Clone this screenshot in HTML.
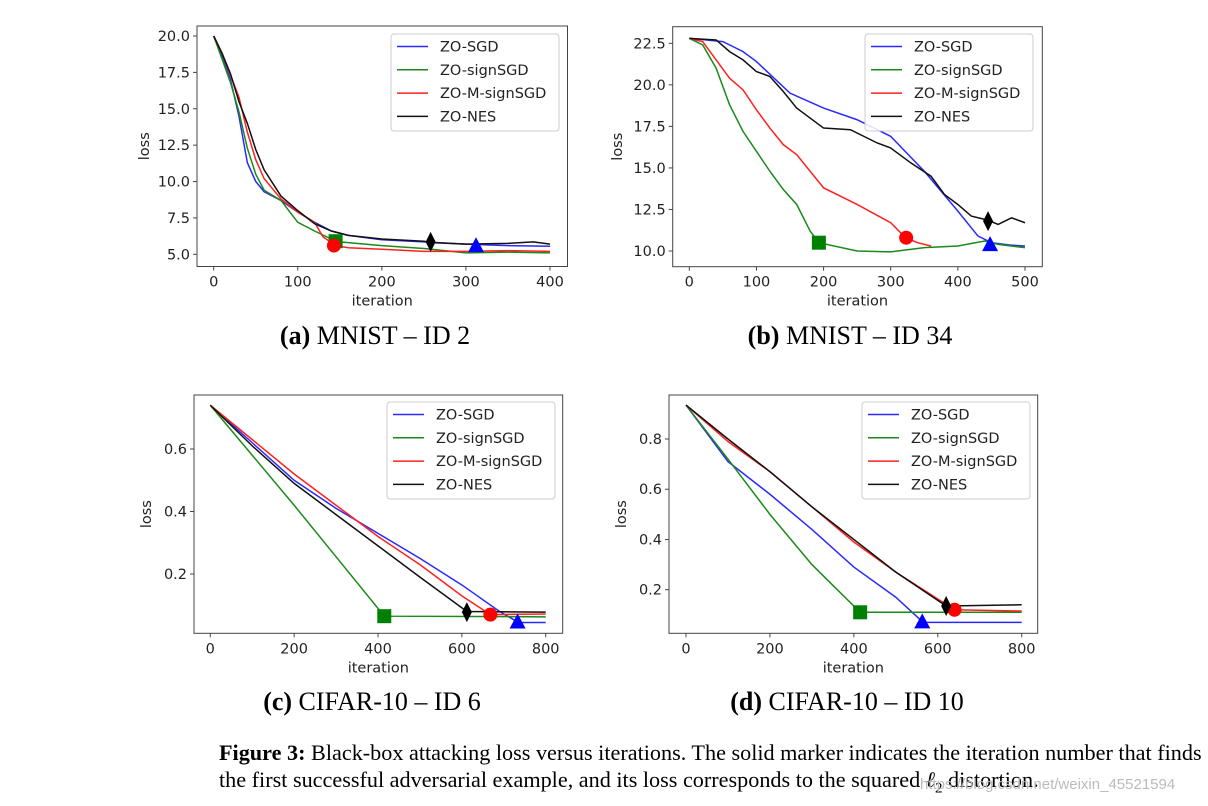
<!DOCTYPE html>
<html><head><meta charset="utf-8"><style>
html,body{margin:0;padding:0;background:#fff;}
body{width:1208px;height:806px;position:relative;overflow:hidden;font-family:"Liberation Serif",serif;}
.cap{position:absolute;font-size:26px;color:#000;text-align:center;width:400px;line-height:30px;}
.fig{position:absolute;left:219px;font-size:22.2px;color:#000;white-space:nowrap;line-height:27px;}
</style></head><body>
<svg id="svg" width="1208" height="806" style="position:absolute;left:0;top:0"></svg>
<div class="cap" style="left:175px;top:321px"><b>(a)</b> MNIST – ID 2</div>
<div class="cap" style="left:650px;top:321px"><b>(b)</b> MNIST – ID 34</div>
<div class="cap" style="left:172px;top:687px"><b>(c)</b> CIFAR-10 – ID 6</div>
<div class="cap" style="left:647px;top:687px"><b>(d)</b> CIFAR-10 – ID 10</div>
<div class="fig" style="top:739px"><b>Figure 3:</b> Black-box attacking loss versus iterations. The solid marker indicates the iteration number that finds</div>
<div class="fig" style="top:766px">the first successful adversarial example, and its loss corresponds to the squared <i>ℓ</i><sub style="font-size:15px">2</sub> distortion.</div>
<div style="position:absolute;left:920px;top:776px;font-family:'Liberation Sans',sans-serif;font-size:15px;color:#bbb">https://blog.csdn.net/weixin_45521594</div>
<script>
const seriesNames=["ZO-SGD","ZO-signSGD","ZO-M-signSGD","ZO-NES"];
const colors=["#2a2aff","#1a8a1a","#ff2020","#111"];
const markColors=["#0000ff","#008000","#ff0000","#000"];
// panel a
const aX=[[0,10,20,30,40,50,60,80,100,120,140,160,200,250,300,350,400],[0,10,20,30,40,50,60,80,100,120,145,150,200,250,300,350,400],[0,10,20,30,40,50,60,80,100,120,130,145,160,200,250,300,350,400],[0,10,20,30,40,50,60,80,100,120,140,160,200,250,260,300,350,380,400]];
const aY=[[20,18.6,17,14.5,11.3,10.0,9.3,8.7,7.9,7.2,6.6,6.3,6.0,5.85,5.7,5.6,5.55],[20,18.4,16.8,14.8,12.3,10.5,9.4,8.7,7.2,6.6,5.9,5.85,5.6,5.4,5.1,5.15,5.1],[20,18.8,17.3,15.8,13.4,11.5,10.2,8.8,7.9,7.2,6.2,5.6,5.45,5.35,5.2,5.2,5.25,5.2],[20,18.8,17.4,15.5,14.0,12.2,10.8,9.0,8.0,7.1,6.6,6.3,6.05,5.9,5.8,5.7,5.75,5.85,5.7]];
const aMark=[[312,5.55],[145,5.9],[143,5.6],[258,5.85]];
const aXT=[0,100,200,300,400], aYT=[5,7.5,10,12.5,15,17.5,20];
// panel b
const bX=[[0,50,80,100,150,200,250,300,350,400,430,450,480,500],[0,20,40,60,80,100,120,140,160,180,193,250,300,350,400,440,460,500],[0,20,40,60,80,100,120,140,160,200,250,300,322,340,360],[0,40,60,80,100,120,140,160,200,240,280,300,330,360,380,400,420,445,460,480,500]];
const bY=[[22.8,22.6,22.0,21.4,19.5,18.6,17.9,16.9,14.8,12.4,10.9,10.5,10.35,10.3],[22.8,22.4,21.0,18.8,17.2,16.0,14.8,13.7,12.8,11.2,10.5,10.0,9.95,10.2,10.3,10.6,10.4,10.2],[22.8,22.6,21.5,20.4,19.7,18.5,17.4,16.4,15.8,13.8,12.8,11.7,10.8,10.5,10.3],[22.8,22.7,22.0,21.5,20.8,20.5,19.6,18.6,17.4,17.3,16.5,16.2,15.3,14.5,13.4,12.8,12.1,11.85,11.6,12.0,11.7]];
const bMark=[[448,10.35],[193,10.5],[323,10.8],[445,11.8]];
const bXT=[0,100,200,300,400,500], bYT=[10,12.5,15,17.5,20,22.5];
// panel c
const cX=[[0,100,200,300,400,500,600,690,735,800],[0,100,200,300,415,800],[0,100,200,300,400,500,600,668,800],[0,100,200,300,400,500,612,800]];
const cY=[[0.74,0.62,0.5,0.41,0.33,0.25,0.165,0.08,0.045,0.045],[0.74,0.58,0.42,0.255,0.065,0.063],[0.74,0.63,0.52,0.42,0.32,0.23,0.13,0.07,0.072],[0.74,0.61,0.49,0.39,0.29,0.19,0.08,0.078]];
const cMark=[[733,0.045],[415,0.065],[668,0.07],[612,0.078]];
const cXT=[0,200,400,600,800], cYT=[0.2,0.4,0.6];
// panel d
const dX=[[0,100,200,300,400,500,565,800],[0,100,200,300,415,800],[0,100,200,300,400,500,640,800],[0,100,200,300,400,500,620,800]];
const dY=[[0.935,0.71,0.58,0.44,0.29,0.17,0.07,0.07],[0.935,0.72,0.5,0.3,0.11,0.11],[0.935,0.79,0.67,0.53,0.39,0.27,0.12,0.115],[0.935,0.8,0.67,0.53,0.4,0.27,0.135,0.14]];
const dMark=[[563,0.07],[415,0.11],[640,0.12],[620,0.135]];
const dXT=[0,200,400,600,800], dYT=[0.2,0.4,0.6,0.8];

const NS="http://www.w3.org/2000/svg";
const svg=document.getElementById('svg');
function mk(t,a,p){const e=document.createElementNS(NS,t);for(const k in a)e.setAttribute(k,a[k]);(p||svg).appendChild(e);return e;}
function panel(id,fr,xm,ym,X,Y,M,XT,YT,dec,leg,ylx){
  const g=mk('g',{});
  
  
  const sx=v=>xm[0]+(v-xm[1])*(xm[2]-xm[0])/(xm[3]-xm[1]);
  const sy=v=>ym[0]+(v-ym[1])*(ym[2]-ym[0])/(ym[3]-ym[1]);
  const clip=mk('clipPath',{id:'cl'+id},g);
  mk('rect',{x:fr[0],y:fr[1],width:fr[2]-fr[0],height:fr[3]-fr[1]},clip);
  for(let s=0;s<4;s++){
    const p=mk('polyline',{points:X[s].map((x,i)=>sx(x)+','+sy(Y[s][i])).join(' '),fill:'none',stroke:colors[s],'stroke-width':1.5,'clip-path':'url(#cl'+id+')'},g);
    
    
  }
  for(let s=0;s<4;s++){
    const x=sx(M[s][0]),y=sy(M[s][1]),c=markColors[s];let e;
    if(s==0)e=mk('polygon',{points:`${x},${y-9} ${x-8},${y+6} ${x+8},${y+6}`,fill:c},g);
    if(s==1)e=mk('rect',{x:x-7,y:y-7,width:14,height:14,fill:c},g);
    if(s==2)e=mk('circle',{cx:x,cy:y,r:7,fill:c},g);
    if(s==3)e=mk('polygon',{points:`${x},${y-10} ${x+5},${y} ${x},${y+10} ${x-5},${y}`,fill:c},g);
    
    
  }
  mk('rect',{x:fr[0],y:fr[1],width:fr[2]-fr[0],height:fr[3]-fr[1],fill:'none',stroke:'#444','stroke-width':1},g);
  const ft={'font-family':'DejaVu Sans, Liberation Sans, sans-serif','font-size':14.5,fill:'#222'};
  XT.forEach(v=>{const x=sx(v);mk('line',{x1:x,x2:x,y1:fr[3],y2:fr[3]+4,stroke:'#444'},g);
    const t=mk('text',Object.assign({x:x,y:fr[3]+20,'text-anchor':'middle'},ft),g);t.textContent=v;
    });
  YT.forEach(v=>{const y=sy(v);mk('line',{x1:fr[0]-4,x2:fr[0],y1:y,y2:y,stroke:'#444'},g);
    const t=mk('text',Object.assign({x:fr[0]-7,y:y+5,'text-anchor':'end'},ft),g);t.textContent=v.toFixed(dec);
    });
  const xl=mk('text',Object.assign({x:(fr[0]+fr[2])/2,y:fr[3]+39,'text-anchor':'middle'},ft),g);xl.textContent='iteration';
  
  const yc=(fr[1]+fr[3])/2;
  const yl=mk('text',Object.assign({x:ylx,y:yc,'text-anchor':'middle',transform:`rotate(-90 ${ylx} ${yc})`},ft),g);yl.textContent='loss';
  
  const lg=mk('g',{},g);
  
  
  mk('rect',{x:leg[0],y:leg[1],width:168,height:97,rx:3,fill:'#fff','fill-opacity':0.85,stroke:'#ccc'},lg);
  for(let s=0;s<4;s++){const y=leg[1]+12.5+s*23.3;
    mk('line',{x1:leg[0]+6,x2:leg[0]+37,y1:y,y2:y,stroke:colors[s],'stroke-width':1.5},lg);
    const t=mk('text',Object.assign({x:leg[0]+49,y:y+5},ft),lg);t.textContent=seriesNames[s];
    }
}
panel('a',[197,26,567.5,266.5],[213.7,0,550,400],[254.3,5,36,20],aX,aY,aMark,aXT,aYT,1,[391,34],149);
panel('b',[672.7,26.7,1042.3,266.7],[689.3,0,1025,500],[251,10,43.3,22.5],bX,bY,bMark,bXT,bYT,1,[865,34],622);
panel('c',[194,395,562.7,633.3],[210.3,0,545.7,800],[574,0.2,449,0.6],cX,cY,cMark,cXT,cYT,1,[387,402],151);
panel('d',[669,395,1037.7,633.3],[686,0,1021.7,800],[589.7,0.2,439,0.8],dX,dY,dMark,dXT,dYT,1,[862,402],626);
</script>
</body></html>
